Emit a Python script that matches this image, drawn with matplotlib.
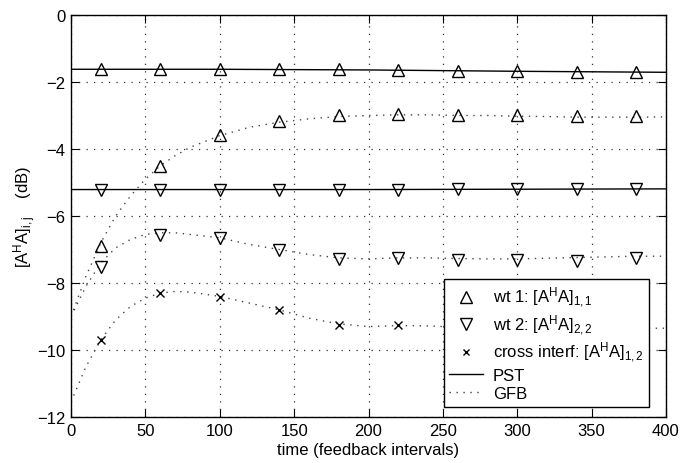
import matplotlib
matplotlib.use("Agg")
import matplotlib.pyplot as plt
from matplotlib.lines import Line2D

plt.rcParams['font.family'] = ['Liberation Sans', 'DejaVu Sans']
plt.rcParams['mathtext.fontset'] = 'custom'
plt.rcParams['mathtext.rm'] = 'Liberation Sans'
plt.rcParams['mathtext.it'] = 'Liberation Sans'

# sample times where the simulated values are marked
t_mark = [20, 60, 100, 140, 180, 220, 260, 300, 340, 380]

wt1_pst_mark = [-1.6, -1.6, -1.6, -1.62, -1.62, -1.65, -1.67, -1.68, -1.69, -1.7]
wt2_pst_mark = [-5.22, -5.22, -5.22, -5.22, -5.21, -5.21, -5.2, -5.2, -5.19, -5.19]
wt1_gfb_mark = [-6.89, -4.5, -3.58, -3.17, -2.99, -2.96, -2.97, -2.98, -3.02, -3.02]
wt2_gfb_mark = [-7.51, -6.56, -6.67, -7.0, -7.28, -7.24, -7.3, -7.3, -7.35, -7.25]
cross_gfb_mark = [-9.69, -8.3, -8.41, -8.81, -9.25, -9.25, -9.3, -9.32, -9.33, -9.33]

# analytic curves
t_pst = [0, 100, 200, 300, 400]
wt1_pst = [-1.62, -1.62, -1.64, -1.68, -1.71]
wt2_pst = [-5.21, -5.21, -5.21, -5.2, -5.19]

t_gfb = [0, 10, 20, 30, 40, 50, 60, 70, 80, 100, 120, 140, 160, 180, 200,
         220, 240, 260, 280, 300, 320, 340, 360, 380, 400]
wt1_gfb = [-9.0, -7.8, -6.8, -6.0, -5.4, -4.9, -4.5, -4.2, -3.95, -3.6, -3.35,
           -3.2, -3.1, -3.03, -3.0, -2.98, -2.98, -3.0, -3.0, -3.02, -3.03,
           -3.05, -3.05, -3.05, -3.04]
wt2_gfb = [-9.0, -8.1, -7.4, -6.95, -6.7, -6.55, -6.5, -6.5, -6.55, -6.65,
           -6.85, -7.0, -7.15, -7.25, -7.28, -7.25, -7.25, -7.27, -7.28,
           -7.28, -7.26, -7.24, -7.22, -7.2, -7.2]
cross_gfb = [-11.55, -10.5, -9.7, -9.1, -8.7, -8.45, -8.3, -8.25, -8.27, -8.4,
             -8.6, -8.8, -9.05, -9.22, -9.3, -9.27, -9.28, -9.32, -9.35,
             -9.35, -9.35, -9.35, -9.35, -9.35, -9.35]

DOTS = (0, (1, 4))
FS = 12

fig = plt.figure(figsize=(6.93, 4.64), dpi=100)
ax = fig.add_axes([0.1025, 0.0991, 0.8585, 0.8664])

for y in [wt1_pst, wt2_pst]:
    ax.plot(t_pst, y, '-', color='black', lw=1.0)
for y in [wt1_gfb, wt2_gfb, cross_gfb]:
    ax.plot(t_gfb, y, linestyle=DOTS, color='#444444', lw=1.0)

mk = dict(linestyle='none', markerfacecolor='none', markeredgecolor='black',
          markeredgewidth=1.0)
ax.plot(t_mark, wt1_pst_mark, marker='^', markersize=9, **mk)
ax.plot(t_mark, wt1_gfb_mark, marker='^', markersize=9, **mk)
ax.plot(t_mark, wt2_pst_mark, marker='v', markersize=9, **mk)
ax.plot(t_mark, wt2_gfb_mark, marker='v', markersize=9, **mk)
ax.plot(t_mark, cross_gfb_mark, marker='x', markersize=6, **mk)

ax.set_xlim(0, 400)
ax.set_ylim(-12, 0)
ax.set_xticks(range(0, 401, 50))
ax.set_yticks(range(-12, 1, 2))
ax.set_yticklabels(['\u221212', '\u221210', '\u22128', '\u22126', '\u22124', '\u22122', '0'])
ax.grid(True, linestyle=(0, (1, 5)), color='#333333', lw=0.9)
ax.tick_params(direction='in', top=True, right=True, labelsize=FS, length=6, pad=4)
for s in ax.spines.values():
    s.set_linewidth(1.0)

ax.set_xlabel('time (feedback intervals)', fontsize=FS, labelpad=3)
ax.set_ylabel(r'$[\mathrm{A^HA}]_{\mathrm{i,j}}$    (dB)', fontsize=FS, labelpad=-1)

handles = [
    Line2D([], [], marker='^', markersize=8, **mk),
    Line2D([], [], marker='v', markersize=8, **mk),
    Line2D([], [], marker='x', markersize=5, **mk),
    Line2D([], [], linestyle='-', color='black', lw=1.0),
    Line2D([], [], linestyle=DOTS, color='#444444', lw=1.0),
]
labels = [
    r'wt 1: $[\mathrm{A^HA}]_{1,1}$',
    r'wt 2: $[\mathrm{A^HA}]_{2,2}$',
    r'cross interf: $[\mathrm{A^HA}]_{1,2}$',
    'PST',
    'GFB',
]
leg = ax.legend(handles, labels, loc='lower right', bbox_to_anchor=(0.972, 0.025),
                fontsize=FS, fancybox=False, framealpha=1, edgecolor='black',
                handlelength=2.0, labelspacing=0.2, borderpad=0.35,
                handletextpad=0.6, borderaxespad=0)
leg.get_frame().set_linewidth(1.0)

fig.savefig('out.png', dpi=100)
